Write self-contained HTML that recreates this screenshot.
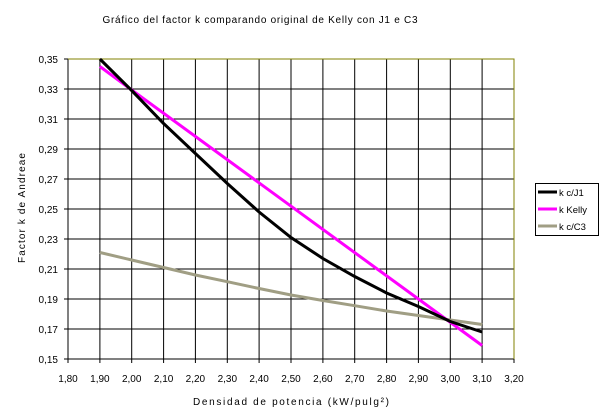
<!DOCTYPE html>
<html><head><meta charset="utf-8"><style>
html,body{margin:0;padding:0;background:#fff;}
svg{display:block;font-family:"Liberation Sans",sans-serif;}
</style></head><body>
<svg width="605" height="420" viewBox="0 0 605 420" xmlns="http://www.w3.org/2000/svg">
<rect width="605" height="420" fill="#fff"/>
<text x="260" y="23" font-size="10" text-anchor="middle" textLength="315" lengthAdjust="spacing">Gráfico del factor k comparando original de Kelly con J1 e C3</text>
<g stroke="#000" stroke-width="1">
<line x1="99.9" y1="59" x2="99.9" y2="359"/><line x1="131.7" y1="59" x2="131.7" y2="359"/><line x1="163.6" y1="59" x2="163.6" y2="359"/><line x1="195.4" y1="59" x2="195.4" y2="359"/><line x1="227.3" y1="59" x2="227.3" y2="359"/><line x1="259.1" y1="59" x2="259.1" y2="359"/><line x1="291" y1="59" x2="291" y2="359"/><line x1="322.9" y1="59" x2="322.9" y2="359"/><line x1="354.7" y1="59" x2="354.7" y2="359"/><line x1="386.6" y1="59" x2="386.6" y2="359"/><line x1="418.4" y1="59" x2="418.4" y2="359"/><line x1="450.3" y1="59" x2="450.3" y2="359"/><line x1="482.1" y1="59" x2="482.1" y2="359"/>
<line x1="64" y1="89" x2="514" y2="89"/><line x1="64" y1="119" x2="514" y2="119"/><line x1="64" y1="149" x2="514" y2="149"/><line x1="64" y1="179" x2="514" y2="179"/><line x1="64" y1="209" x2="514" y2="209"/><line x1="64" y1="239" x2="514" y2="239"/><line x1="64" y1="269" x2="514" y2="269"/><line x1="64" y1="299" x2="514" y2="299"/><line x1="64" y1="329" x2="514" y2="329"/>
<line x1="64" y1="59" x2="68" y2="59"/>
<line x1="68" y1="59" x2="68" y2="363"/><line x1="64" y1="359" x2="514" y2="359"/>
</g>
<g stroke="#000"><line x1="99.9" y1="359" x2="99.9" y2="363"/><line x1="131.7" y1="359" x2="131.7" y2="363"/><line x1="163.6" y1="359" x2="163.6" y2="363"/><line x1="195.4" y1="359" x2="195.4" y2="363"/><line x1="227.3" y1="359" x2="227.3" y2="363"/><line x1="259.1" y1="359" x2="259.1" y2="363"/><line x1="291" y1="359" x2="291" y2="363"/><line x1="322.9" y1="359" x2="322.9" y2="363"/><line x1="354.7" y1="359" x2="354.7" y2="363"/><line x1="386.6" y1="359" x2="386.6" y2="363"/><line x1="418.4" y1="359" x2="418.4" y2="363"/><line x1="450.3" y1="359" x2="450.3" y2="363"/><line x1="482.1" y1="359" x2="482.1" y2="363"/><line x1="514" y1="359" x2="514" y2="363"/></g>
<polyline points="68,59 514,59 514,359" fill="none" stroke="#808000" stroke-width="1"/>
<g font-size="10" text-anchor="end">
<text x="58" y="63">0,35</text><text x="58" y="93">0,33</text><text x="58" y="123">0,31</text><text x="58" y="153">0,29</text><text x="58" y="183">0,27</text><text x="58" y="213">0,25</text><text x="58" y="243">0,23</text><text x="58" y="273">0,21</text><text x="58" y="303">0,19</text><text x="58" y="333">0,17</text><text x="58" y="363">0,15</text>
</g>
<g font-size="10" text-anchor="middle">
<text x="68" y="382">1,80</text><text x="99.9" y="382">1,90</text><text x="131.7" y="382">2,00</text><text x="163.6" y="382">2,10</text><text x="195.4" y="382">2,20</text><text x="227.3" y="382">2,30</text><text x="259.1" y="382">2,40</text><text x="291" y="382">2,50</text><text x="322.9" y="382">2,60</text><text x="354.7" y="382">2,70</text><text x="386.6" y="382">2,80</text><text x="418.4" y="382">2,90</text><text x="450.3" y="382">3,00</text><text x="482.1" y="382">3,10</text><text x="514" y="382">3,20</text>
</g>
<text x="291" y="405" font-size="10" text-anchor="middle" textLength="196" lengthAdjust="spacing">Densidad de potencia (kW/pulg²)</text>
<text transform="translate(25,208) rotate(-90)" font-size="10" text-anchor="middle" textLength="110" lengthAdjust="spacing">Factor k de Andreae</text>
<polyline fill="none" stroke="#a09e84" stroke-width="3" points="99.9,252.5 131.7,260 163.6,267.5 195.4,275 227.3,281.7 259.1,288.5 291,295 322.9,300.5 354.7,305.7 386.6,311 418.4,315.5 450.3,320 482.1,324.5"/>
<polyline fill="none" stroke="#ff00ff" stroke-width="3" points="99.9,66.5 131.7,90 482.1,345.5"/>
<polyline fill="none" stroke="#000" stroke-width="3" points="99.9,59 131.7,90.5 163.6,123.5 195.4,153.5 227.3,183.5 259.1,212 291,237.5 322.9,258.5 354.7,276.5 386.6,293 418.4,306.5 450.3,321.5 482.1,332"/>
<rect x="535.5" y="183.5" width="63" height="52" fill="#fff" stroke="#000"/>
<line x1="538" y1="192" x2="557" y2="192" stroke="#000" stroke-width="3"/>
<line x1="538" y1="209" x2="557" y2="209" stroke="#ff00ff" stroke-width="3"/>
<line x1="538" y1="226" x2="557" y2="226" stroke="#a09e84" stroke-width="3"/>
<g font-size="9.5"><text x="559" y="196">k  c/J1</text><text x="559" y="213">k  Kelly</text><text x="559" y="230">k  c/C3</text></g>
</svg>
</body></html>
